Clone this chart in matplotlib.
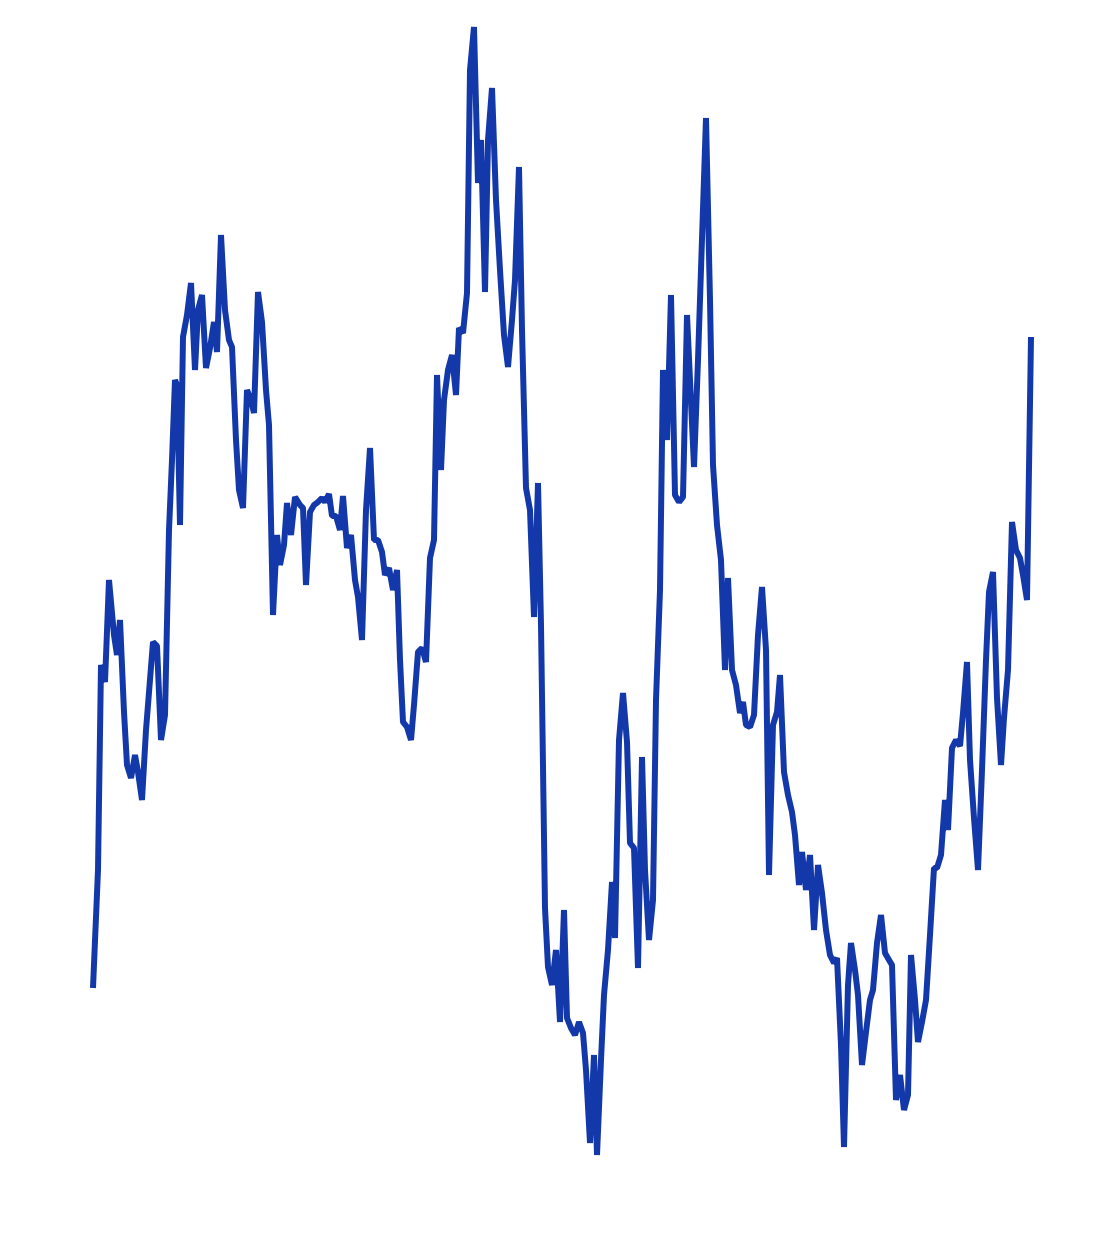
import matplotlib
matplotlib.use("Agg")
import matplotlib.pyplot as plt

# x positions (time steps) and series values
x = [93, 98, 101, 105, 109, 114, 117, 120, 124, 127, 131, 135, 138, 142, 146, 153, 157, 161, 165,
     169, 172, 175, 177, 180, 183, 187, 191, 195, 198, 202, 206, 210, 214, 217, 221, 225, 229, 232,
     236, 239, 243, 247, 251, 254, 258, 262, 266, 269, 273, 277, 280, 284, 287, 291, 295, 300, 303,
     306, 310, 314, 318, 322, 325, 329, 332, 336, 340, 343, 347, 351, 355, 358, 362, 366, 370, 374,
     378, 382, 385, 389, 393, 397, 400, 403, 407, 411, 414, 418, 422, 426, 430, 434, 437, 441, 444,
     448, 452, 456, 459, 463, 467, 470, 474, 478, 481, 485, 488, 492, 496, 500, 504, 508, 512, 515,
     519, 522, 526, 530, 534, 538, 541, 545, 548, 552, 556, 560, 564, 567, 571, 575, 579, 583, 586,
     590, 594, 597, 601, 604, 608, 612, 615, 619, 623, 627, 630, 634, 638, 642, 645, 649, 653, 656,
     660, 663, 667, 671, 675, 679, 683, 687, 690, 694, 698, 702, 706, 710, 713, 717, 721, 725, 728,
     732, 736, 740, 743, 746, 750, 754, 758, 762, 766, 769, 773, 777, 780, 784, 788, 792, 795, 799,
     802, 806, 810, 814, 818, 822, 826, 830, 834, 837, 841, 844, 848, 851, 855, 858, 862, 866, 870,
     873, 877, 881, 885, 889, 892, 896, 900, 904, 908, 911, 915, 918, 922, 926, 930, 934, 937, 941,
     945, 948, 952, 956, 960, 963, 967, 970, 974, 978, 982, 986, 989, 993, 997, 1001, 1004, 1008,
     1012, 1016, 1020, 1023, 1027, 1031]

ypix = [988, 870, 665, 682, 580, 635, 655, 620, 712, 765, 778, 755, 772, 800, 730, 642, 646, 740, 715,
        530, 460, 380, 385, 525, 337, 315, 283, 370, 310, 295, 368, 348, 322, 352, 235, 310, 340, 347,
        440, 490, 508, 390, 400, 413, 292, 322, 390, 425, 615, 535, 565, 545, 503, 535, 497, 505, 508,
        585, 512, 505, 502, 498, 502, 494, 516, 516, 530, 496, 548, 535, 580, 597, 640, 510, 448, 540,
        540, 552, 575, 568, 590, 570, 660, 722, 727, 740, 705, 652, 648, 662, 558, 540, 375, 470, 400,
        370, 355, 395, 328, 333, 293, 70, 27, 183, 140, 292, 140, 88, 200, 270, 335, 367, 320, 280,
        167, 330, 488, 510, 617, 483, 625, 908, 967, 985, 950, 1022, 910, 1018, 1028, 1035, 1022, 1033, 1070,
        1143, 1055, 1155, 1060, 995, 950, 882, 938, 740, 693, 742, 843, 848, 968, 757, 870, 940, 900, 700,
        590, 370, 440, 295, 495, 502, 497, 315, 380, 467, 360, 240, 118, 300, 465, 525, 560, 670, 578,
        670, 685, 713, 702, 725, 727, 715, 635, 587, 650, 875, 725, 712, 675, 772, 795, 812, 835, 885,
        852, 890, 855, 930, 865, 893, 930, 955, 963, 958, 1045, 1147, 985, 943, 970, 995, 1065, 1032, 1000,
        990, 943, 915, 953, 960, 965, 1100, 1075, 1110, 1095, 955, 1000, 1042, 1022, 1000, 935, 868, 868, 855,
        800, 830, 748, 740, 746, 713, 662, 760, 818, 870, 770, 660, 592, 572, 698, 765, 718, 670,
        522, 550, 558, 575, 600, 337]

values = [1244 - v for v in ypix]

fig = plt.figure(figsize=(11.02, 12.44), dpi=100)
ax = fig.add_axes([0, 0, 1, 1])
ax.plot(x, values, color="#1338a9", linewidth=4.3, solid_joinstyle="bevel", solid_capstyle="butt")
ax.set_xlim(0, 1102)
ax.set_ylim(0, 1244)
ax.axis("off")
fig.savefig("out.png", dpi=100, facecolor="white")
